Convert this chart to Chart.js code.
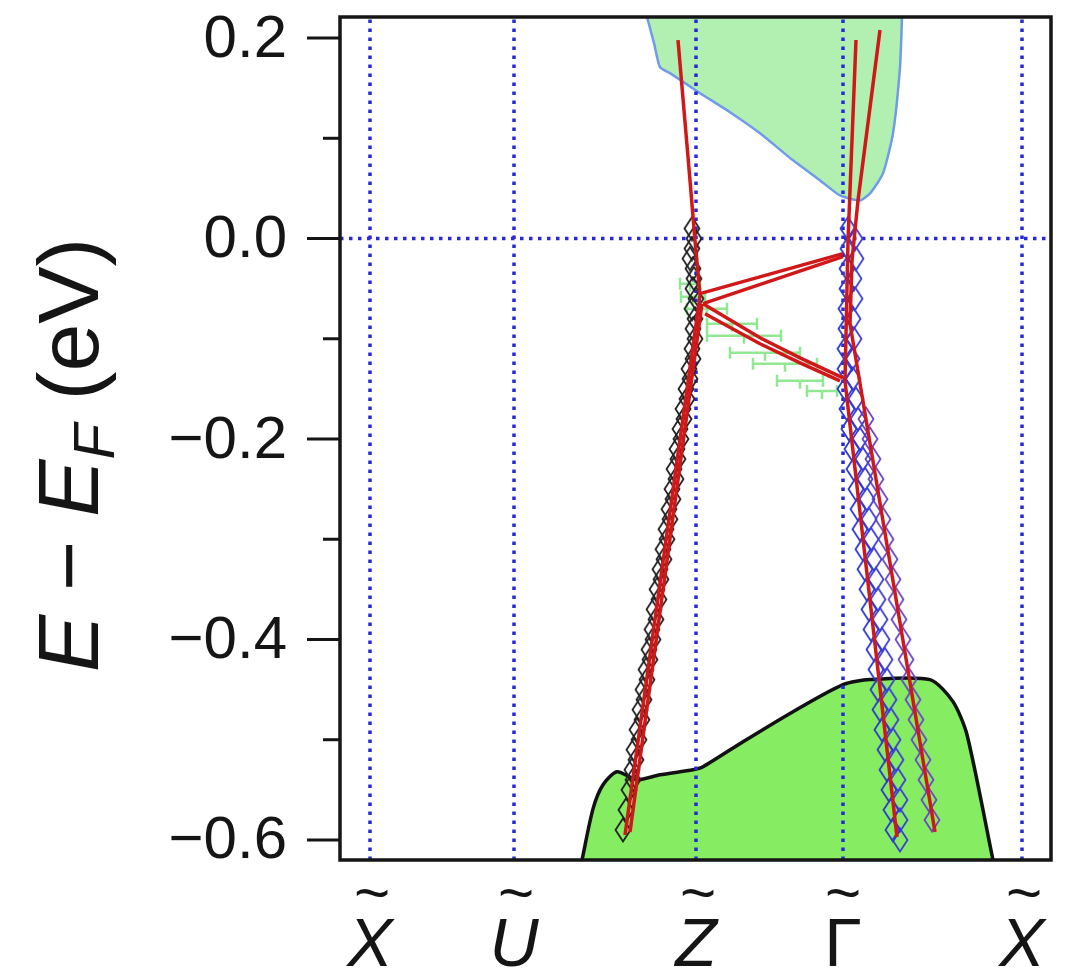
<!DOCTYPE html>
<html>
<head>
<meta charset="utf-8">
<script src="https://cdn.jsdelivr.net/npm/chart.js@4.4.0/dist/chart.umd.min.js"></script>
<style>
  html, body { margin: 0; padding: 0; background: #fff; }
  #wrap { width: 1067px; height: 974px; }
</style>
</head>
<body>
<div id="wrap"><canvas id="bands" width="1067" height="974"></canvas></div>
<script>
// --- Axes ---
// x is the distance along the k-path (arbitrary units), y is E - EF in eV
const xRange = [0, 71.1];
const yRange = [-0.62, 0.221];
const symPoints = [3.0, 17.4, 35.6, 50.3, 68.2];
const symLabels = ['X', 'U', 'Z', '\u0393', 'X'];
const symItalic = [true, true, true, false, true];
const yTickValues = [0.2, 0.1, 0.0, -0.1, -0.2, -0.3, -0.4, -0.5, -0.6];
const yTickLabels = ['0.2', '', '0.0', '', '\u22120.2', '', '\u22120.4', '', '\u22120.6'];

// --- Projected bulk bands [x, E] ---
const conductionBand = [[30.7, 0.221], [31.4, 0.195], [32.0, 0.171], [33.0, 0.165], [36.0, 0.145],
  [39.0, 0.126], [42.0, 0.105], [45.3, 0.078], [48.0, 0.058], [50.0, 0.043], [52.0, 0.038],
  [53.0, 0.045], [54.3, 0.065], [55.3, 0.105], [56.0, 0.171], [56.2, 0.221]];
const valenceBand = [[24.2, -0.62], [25.3, -0.569], [26.3, -0.545], [27.7, -0.532], [29.7, -0.540],
  [32.0, -0.535], [35.3, -0.530], [36.3, -0.527], [40.3, -0.502], [45.3, -0.472], [50.3, -0.445],
  [53.0, -0.440], [59.0, -0.440], [61.3, -0.462], [62.7, -0.495], [65.3, -0.62]];

// --- Calculated surface bands (red) ---
const calcZ1 = [[33.8, 0.198], [35.0, 0.058], [35.5, -0.002], [36.0, -0.057], [28.5, -0.595]];
const calcZ2 = [[36.2, -0.065], [29.0, -0.592]];
const calcZG1 = [[36.0, -0.055], [50.3, -0.015]];
const calcZG2 = [[36.3, -0.065], [50.3, -0.018]];
const calcZG3 = [[36.3, -0.065], [42.0, -0.099], [46.0, -0.119], [50.3, -0.139]];
const calcZG4 = [[36.5, -0.075], [42.0, -0.105], [46.0, -0.124], [50.0, -0.142]];
const calcG1 = [[51.6, 0.198], [50.8, -0.002], [50.5, -0.142], [55.7, -0.597]];
const calcG2 = [[54.0, 0.208], [51.8, 0.038], [51.2, -0.022], [51.0, -0.085], [59.5, -0.592]];

// --- ARPES peak positions (diamonds) ---
const arpesZa = [[35.2, 0.01], [35.2, -0.01], [35.3, -0.03], [35.3, -0.05], [35.2, -0.07], [35.3, -0.09],
  [35.2, -0.11], [34.9, -0.13], [34.6, -0.15], [34.3, -0.17], [34.0, -0.19], [33.7, -0.21],
  [33.4, -0.23], [33.2, -0.25], [32.9, -0.27], [32.6, -0.29], [32.3, -0.31], [32.0, -0.33],
  [31.7, -0.35], [31.4, -0.37], [31.2, -0.39], [30.9, -0.41], [30.6, -0.43], [30.3, -0.45],
  [30.0, -0.47], [29.7, -0.49], [29.4, -0.51], [29.2, -0.53], [28.9, -0.55], [28.6, -0.57], [28.3, -0.59]];
const arpesZb = [[35.4, 0.00], [35.0, -0.02], [35.4, -0.04], [35.6, -0.06], [35.5, -0.08], [35.5, -0.10],
  [35.3, -0.12], [35.0, -0.14], [34.7, -0.16], [34.4, -0.18], [34.1, -0.20], [33.8, -0.22],
  [33.6, -0.24], [33.3, -0.26], [33.0, -0.28], [32.7, -0.30], [32.4, -0.32], [32.1, -0.34],
  [31.9, -0.36], [31.6, -0.38], [31.3, -0.40], [31.0, -0.42], [30.7, -0.44], [30.4, -0.46],
  [30.2, -0.48], [29.9, -0.50], [29.6, -0.52], [29.3, -0.54]];
const arpesGa = [[50.8, 0.01], [50.8, -0.01], [50.7, -0.03], [50.7, -0.05], [50.6, -0.07], [50.6, -0.09],
  [50.5, -0.11], [50.5, -0.13], [50.5, -0.15], [50.7, -0.17], [50.9, -0.19], [51.2, -0.21],
  [51.4, -0.23], [51.6, -0.25], [51.8, -0.27], [52.0, -0.29], [52.3, -0.31], [52.5, -0.33],
  [52.7, -0.35], [52.9, -0.37], [53.1, -0.39], [53.4, -0.41], [53.6, -0.43], [53.8, -0.45],
  [54.0, -0.47], [54.2, -0.49], [54.5, -0.51], [54.7, -0.53], [54.9, -0.55], [55.1, -0.57], [55.3, -0.59]];
const arpesGb = [[51.5, 0.00], [51.6, -0.02], [51.4, -0.04], [51.5, -0.06], [51.3, -0.08], [51.4, -0.10],
  [51.2, -0.12], [51.3, -0.14], [51.6, -0.16], [51.8, -0.18], [52.0, -0.20], [52.3, -0.22],
  [52.5, -0.24], [52.7, -0.26], [52.9, -0.28], [53.1, -0.30], [53.4, -0.32], [53.6, -0.34],
  [53.8, -0.36], [54.0, -0.38], [54.2, -0.40], [54.5, -0.42], [54.7, -0.44], [54.9, -0.46],
  [55.1, -0.48], [55.3, -0.50], [55.6, -0.52], [55.8, -0.54], [56.0, -0.56], [56.0, -0.58], [56.0, -0.60]];
const arpesGc = [[52.6, -0.18], [53.0, -0.20], [53.3, -0.22], [53.6, -0.24], [54.0, -0.26], [54.3, -0.28],
  [54.6, -0.30], [55.0, -0.32], [55.3, -0.34], [55.6, -0.36], [55.9, -0.38], [56.3, -0.40],
  [56.6, -0.42], [56.9, -0.44], [57.3, -0.46], [57.6, -0.48], [57.9, -0.50], [58.3, -0.52],
  [58.6, -0.54], [58.9, -0.56], [59.2, -0.58]];

// --- Flat band from EDC fits: [x centre, E, half width in x] ---
const flatBand = [[35.0, -0.045, 1.0], [35.3, -0.058, 1.2], [36.7, -0.070, 2.0], [39.2, -0.085, 2.5],
  [40.4, -0.097, 3.7], [42.5, -0.114, 3.5], [44.5, -0.125, 3.2], [46.0, -0.142, 2.3], [48.2, -0.152, 1.5]];

// --- Helpers ---
const pts = arr => arr.map(p => ({ x: p[0], y: p[1] }));
const FONT = "'Liberation Sans', Arial, sans-serif";

function diamond(color) {
    const c = document.createElement('canvas');
    c.width = 18; c.height = 26;
    const g = c.getContext('2d');
    g.strokeStyle = color;
    g.lineWidth = 1.8;
    g.beginPath();
    g.moveTo(9, 1.5); g.lineTo(16.5, 13); g.lineTo(9, 24.5); g.lineTo(1.5, 13);
    g.closePath();
    g.stroke();
    return c;
}

function redLine(arr) {
    return { type: 'line', data: pts(arr), borderColor: '#d01818', borderWidth: 3.5,
        pointRadius: 0, fill: false, tension: 0, order: 1 };
}
function arpes(arr, color) {
    return { type: 'scatter', data: pts(arr), pointStyle: diamond(color), order: 4 };
}
function dotted(data) {
    return { type: 'line', data: data, borderColor: '#2828d8', borderWidth: 3.5, borderDash: [3.5, 5.5],
        pointRadius: 0, fill: false, order: 8 };
}

const datasets = [
    { type: 'line', data: pts(conductionBand), borderColor: '#6f9be8', borderWidth: 2.5,
      backgroundColor: '#b2f0b2', fill: 'end', pointRadius: 0, tension: 0.2, order: 10 },
    { type: 'line', data: pts(valenceBand), borderColor: '#111111', borderWidth: 3.5,
      backgroundColor: '#86ec62', fill: 'start', pointRadius: 0, tension: 0.25, order: 10 },
    dotted([{ x: xRange[0], y: 0 }, { x: xRange[1], y: 0 }])
];
symPoints.forEach(s => datasets.push(dotted([{ x: s, y: yRange[0] }, { x: s, y: yRange[1] }])));
datasets.push({ type: 'scatter', data: flatBand.map(p => ({ x: p[0], y: p[1], w: p[2] })),
    pointRadius: 0, errorBars: true, order: 6 });
datasets.push(arpes(arpesZa, '#222222'), arpes(arpesZb, '#222222'),
    arpes(arpesGa, '#2d3ad0'), arpes(arpesGb, '#3f3fd8'), arpes(arpesGc, '#6a48c8'));
[calcZ1, calcZ2, calcZG1, calcZG2, calcZG3, calcZG4, calcG1, calcG2].forEach(a => datasets.push(redLine(a)));

// --- Plugins: error bars, frame, ticks, labels ---
const errorBarPlugin = {
    id: 'errorBars',
    afterDatasetDraw(chart, args) {
        const ds = chart.data.datasets[args.index];
        if (!ds.errorBars) return;
        const xs = chart.scales.x, ys = chart.scales.y, ctx = chart.ctx;
        ctx.save();
        ctx.strokeStyle = '#92e892';
        ctx.lineWidth = 2.5;
        ds.data.forEach(d => {
            const y = ys.getPixelForValue(d.y);
            const x0 = xs.getPixelForValue(d.x - d.w), x1 = xs.getPixelForValue(d.x + d.w);
            const xc = xs.getPixelForValue(d.x);
            ctx.beginPath();
            ctx.moveTo(x0, y); ctx.lineTo(x1, y);
            ctx.moveTo(x0, y - 6); ctx.lineTo(x0, y + 6);
            ctx.moveTo(x1, y - 6); ctx.lineTo(x1, y + 6);
            ctx.moveTo(xc, y); ctx.lineTo(xc, y + 8);
            ctx.stroke();
        });
        ctx.restore();
    }
};

const decorPlugin = {
    id: 'decor',
    afterDraw(chart) {
        const ctx = chart.ctx, a = chart.chartArea;
        const xs = chart.scales.x, ys = chart.scales.y;
        ctx.save();
        // frame
        ctx.strokeStyle = '#151515';
        ctx.lineWidth = 3.5;
        ctx.strokeRect(a.left, a.top, a.right - a.left, a.bottom - a.top);

        // y ticks and labels
        ctx.lineWidth = 3;
        ctx.fillStyle = '#151515';
        ctx.font = '60px ' + FONT;
        ctx.textAlign = 'right';
        ctx.textBaseline = 'middle';
        yTickValues.forEach((v, i) => {
            const y = ys.getPixelForValue(v);
            const len = yTickLabels[i] ? 33 : 17;
            ctx.beginPath();
            ctx.moveTo(a.left - len, y); ctx.lineTo(a.left, y);
            ctx.stroke();
            if (yTickLabels[i]) ctx.fillText(yTickLabels[i], a.left - 53, y + 2);
        });

        // x labels with tilde
        ctx.textAlign = 'center';
        ctx.textBaseline = 'alphabetic';
        symPoints.forEach((v, i) => {
            const x = xs.getPixelForValue(v);
            ctx.font = (symItalic[i] ? 'italic ' : '') + '68px ' + FONT;
            ctx.fillText(symLabels[i], x, 966);
            ctx.font = '62px ' + FONT;
            ctx.fillText('~', x + (symItalic[i] ? 2 : 0), 914);
        });

        // y title: E - E_F (eV)
        const parts = [
            { t: 'E', f: 'italic 86px ' + FONT, dy: 0 },
            { t: ' \u2212 ', f: '86px ' + FONT, dy: 0 },
            { t: 'E', f: 'italic 86px ' + FONT, dy: 0 },
            { t: 'F', f: 'italic 58px ' + FONT, dy: 16 },
            { t: ' (eV)', f: '86px ' + FONT, dy: 0 }
        ];
        let total = 0;
        parts.forEach(p => { ctx.font = p.f; p.w = ctx.measureText(p.t).width; total += p.w; });
        ctx.translate(98, 455);
        ctx.rotate(-Math.PI / 2);
        ctx.textAlign = 'left';
        let cx = -total / 2;
        parts.forEach(p => {
            ctx.font = p.f;
            ctx.fillText(p.t, cx, p.dy);
            cx += p.w;
        });
        ctx.restore();
    }
};

new Chart(document.getElementById('bands'), {
    type: 'scatter',
    data: { datasets: datasets },
    options: {
        responsive: false,
        animation: false,
        events: [],
        layout: { padding: { top: 17, right: 16, left: 0, bottom: 0 } },
        plugins: { legend: { display: false }, tooltip: { enabled: false } },
        scales: {
            x: {
                type: 'linear', min: xRange[0], max: xRange[1],
                ticks: { display: false }, grid: { display: false }, border: { display: false },
                afterFit(s) { s.height = 114; }
            },
            y: {
                type: 'linear', min: yRange[0], max: yRange[1],
                ticks: { display: false }, grid: { display: false }, border: { display: false },
                afterFit(s) { s.width = 340; }
            }
        }
    },
    plugins: [errorBarPlugin, decorPlugin]
});
</script>
</body>
</html>
